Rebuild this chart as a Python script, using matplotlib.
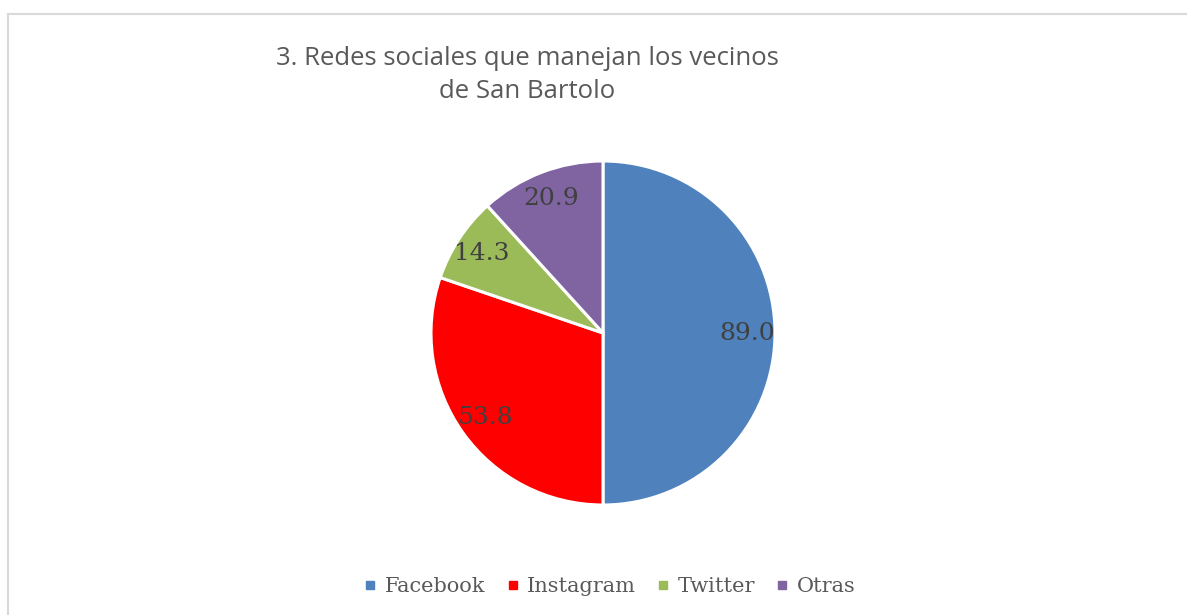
import matplotlib
matplotlib.use("Agg")
import matplotlib.pyplot as plt
from matplotlib.lines import Line2D

categories = ["Facebook", "Instagram", "Twitter", "Otras"]
values = [89.0, 53.8, 14.3, 20.9]
colors = ["#4F81BD", "#FF0000", "#9BBB59", "#8064A2"]
title = "3. Redes sociales que manejan los vecinos\nde San Bartolo"

W, H = 1187, 615
fig = plt.figure(figsize=(W / 100, H / 100), dpi=100)
fig.patch.set_facecolor("white")

# border (top and left visible)
fig.add_artist(Line2D([8 / W, 8 / W], [0, 1 - 14 / H], transform=fig.transFigure,
                      color="#D9D9D9", lw=1.5))
fig.add_artist(Line2D([8 / W, 1], [1 - 14 / H, 1 - 14 / H], transform=fig.transFigure,
                      color="#D9D9D9", lw=1.5))

cx, cy, r = 603, 333, 172
ax = fig.add_axes([(cx - r) / W, (H - cy - r) / H, 2 * r / W, 2 * r / H])
total = sum(values)
wedges, texts, autotexts = ax.pie(
    values, colors=colors, startangle=90, counterclock=False, radius=1,
    autopct=lambda p: f"{p * total / 100:.1f}", pctdistance=0.84,
    wedgeprops=dict(edgecolor="white", linewidth=2.2),
    textprops=dict(family="DejaVu Serif", fontsize=18, color="#404040"))
ax.set_xlim(-1, 1)
ax.set_ylim(-1, 1)
ax.set_aspect("equal")
ax.axis("off")

fig.text(527 / W, 1 - 75 / H, title, ha="center", va="center", fontsize=18.5,
         color="#595959", family="Open Sans", linespacing=1.38)

handles = [Line2D([], [], marker="s", linestyle="none", markersize=6,
                  markerfacecolor=c, markeredgecolor=c) for c in colors]
leg = fig.legend(handles, categories, loc="center", bbox_to_anchor=(610 / W, 1 - 587 / H),
                 ncol=4, frameon=False, handlelength=0.6, handletextpad=0.4,
                 columnspacing=1.0,
                 prop=dict(family="DejaVu Serif", size=15))
for t in leg.get_texts():
    t.set_color("#595959")

fig.savefig("out.png", dpi=100)
